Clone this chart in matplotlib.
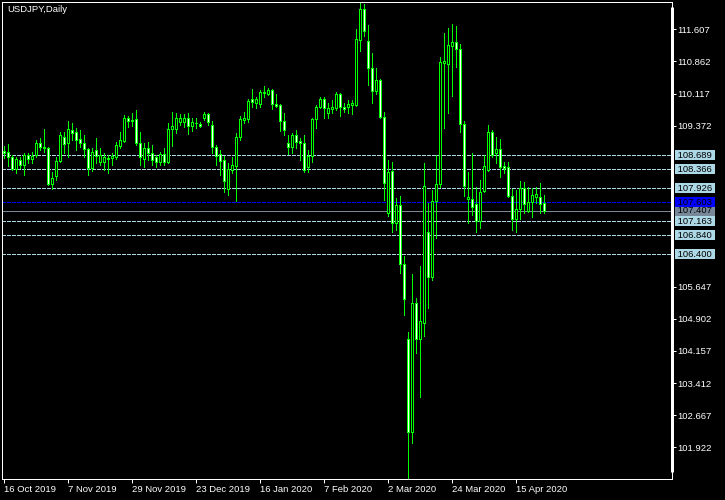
import matplotlib
matplotlib.use("Agg")
import matplotlib.pyplot as plt
import numpy as np
import pandas as pd

plt.rcParams['font.family'] = ['Liberation Sans', 'DejaVu Sans']

# daily USDJPY candles, 16 Oct 2019 .. 24 Apr 2020
opens = [108.787, 108.757, 108.641, 108.370, 108.579, 108.463, 108.695, 108.595, 108.695, 108.980,
         108.887, 108.850, 108.016, 108.215, 108.556, 109.119, 108.966, 109.274, 109.235, 109.058,
         108.980, 108.827, 108.400, 108.811, 108.526, 108.540, 108.595, 108.618, 108.641, 108.910,
         109.026, 109.545, 109.489, 109.522, 108.966, 108.602, 108.850, 108.748, 108.655, 108.540,
         108.718, 108.540, 109.290, 109.290, 109.466, 109.466, 109.545, 109.367, 109.429, 109.413,
         109.545, 109.638, 109.390, 108.887, 108.718, 108.579, 107.900, 108.347, 108.440, 109.105,
         109.506, 109.522, 109.985, 109.893, 109.869, 110.124, 110.101, 110.201, 109.869, 109.853,
         109.489, 108.966, 108.887, 109.158, 109.019, 108.966, 108.424, 108.671, 109.522, 109.814,
         109.985, 109.675, 109.760, 109.777, 110.108, 109.814, 109.800, 109.860, 109.853, 111.359,
         112.071, 111.336, 110.703, 110.184, 110.432, 109.582, 107.344, 108.331, 107.126, 107.536,
         106.162, 104.424, 102.270, 105.259, 104.424, 104.809, 106.904, 105.875, 107.636, 108.016,
         110.833, 110.796, 111.227, 111.306, 111.144, 109.406, 107.675, 107.675, 107.552, 107.165,
         107.867, 108.347, 109.221, 108.748, 108.827, 108.440, 108.424, 107.752, 107.205, 107.437,
         107.923, 107.404, 107.613, 107.729, 107.729, 107.576]
highs = [108.903, 108.950, 108.695, 108.655, 108.655, 108.734, 108.734, 108.771, 109.042, 109.082,
         109.290, 108.887, 108.308, 108.655, 109.235, 109.235, 109.489, 109.443, 109.313, 109.274,
         109.158, 108.850, 108.850, 109.082, 108.850, 108.734, 108.695, 108.734, 109.003, 109.235,
         109.621, 109.598, 109.675, 109.737, 109.235, 108.980, 109.003, 108.926, 108.695, 108.771,
         108.850, 109.443, 109.698, 109.675, 109.645, 109.645, 109.675, 109.545, 109.545, 109.466,
         109.698, 109.668, 109.489, 108.926, 108.811, 108.671, 108.502, 108.655, 109.211, 109.598,
         109.698, 109.985, 110.217, 110.045, 110.201, 110.293, 110.247, 110.217, 110.108, 109.876,
         109.675, 109.158, 109.197, 109.274, 109.082, 109.158, 108.811, 109.545, 109.853, 110.032,
         110.045, 109.906, 109.969, 110.161, 110.124, 109.893, 109.969, 109.969, 111.607, 112.210,
         112.193, 111.707, 111.051, 110.703, 110.456, 109.684, 108.579, 108.539, 107.691, 107.745,
         106.355, 104.600, 105.937, 105.388, 106.123, 108.502, 107.576, 107.884, 108.695, 110.958,
         111.528, 111.630, 111.730, 111.684, 111.267, 109.482, 108.294, 108.734, 107.946, 108.115,
         108.695, 109.390, 109.274, 109.119, 109.058, 108.540, 108.540, 107.900, 107.884, 108.099,
         108.076, 107.946, 107.923, 107.946, 108.039, 107.768]
lows = [108.625, 108.447, 108.347, 108.285, 108.387, 108.231, 108.502, 108.502, 108.655, 108.811,
        108.771, 108.000, 107.900, 108.115, 108.540, 108.734, 108.641, 109.042, 108.811, 108.887,
        108.655, 108.231, 108.331, 108.502, 108.463, 108.347, 108.271, 108.463, 108.595, 108.850,
        109.003, 109.350, 109.367, 108.926, 108.463, 108.424, 108.579, 108.463, 108.424, 108.463,
        108.463, 108.502, 108.903, 109.197, 109.390, 109.350, 109.181, 109.258, 109.313, 109.336,
        109.506, 109.390, 108.734, 108.463, 108.231, 107.844, 107.768, 108.271, 107.629, 109.042,
        109.443, 109.466, 109.814, 109.791, 109.814, 110.045, 110.085, 109.754, 109.814, 109.258,
        109.158, 108.718, 108.734, 108.850, 108.579, 108.308, 108.308, 108.540, 109.313, 109.777,
        109.545, 109.545, 109.661, 109.737, 109.598, 109.698, 109.661, 109.645, 109.830, 111.111,
        111.452, 110.317, 109.893, 110.108, 109.559, 107.652, 107.281, 106.918, 106.957, 105.968,
        104.987, 101.204, 102.015, 104.100, 103.094, 104.501, 105.143, 105.798, 106.765, 107.960,
        109.327, 109.661, 110.069, 110.741, 109.221, 107.752, 107.126, 107.304, 106.918, 106.996,
        107.844, 108.331, 108.655, 108.516, 108.192, 108.285, 107.729, 106.957, 106.918, 107.205,
        107.344, 107.381, 107.265, 107.576, 107.344, 107.344]
closes = [108.741, 108.641, 108.370, 108.595, 108.463, 108.695, 108.595, 108.671, 108.980, 108.887,
          108.850, 108.016, 108.169, 108.563, 109.158, 108.950, 109.290, 109.211, 109.042, 108.980,
          108.827, 108.387, 108.771, 108.671, 108.695, 108.641, 108.632, 108.671, 108.926, 109.042,
          109.545, 109.489, 109.513, 108.966, 108.641, 108.850, 108.748, 108.579, 108.540, 108.718,
          108.540, 109.290, 109.367, 109.545, 109.545, 109.545, 109.367, 109.466, 109.436, 109.367,
          109.645, 109.466, 108.873, 108.671, 108.563, 108.099, 108.363, 108.463, 109.105, 109.522,
          109.545, 109.953, 109.930, 109.992, 110.147, 110.161, 110.201, 109.869, 109.837, 109.489,
          109.274, 108.887, 109.158, 108.989, 108.966, 108.347, 108.671, 109.522, 109.814, 109.985,
          109.777, 109.777, 109.800, 110.108, 109.814, 109.760, 109.876, 109.893, 111.375, 112.071,
          111.575, 110.717, 110.184, 110.432, 109.582, 108.053, 108.294, 107.126, 107.536, 106.169,
          105.351, 102.270, 105.259, 104.424, 104.848, 107.983, 105.875, 107.636, 108.016, 110.843,
          110.873, 111.243, 111.306, 111.144, 109.406, 107.983, 107.715, 107.497, 107.165, 107.844,
          108.447, 109.221, 108.695, 108.827, 108.410, 108.400, 107.752, 107.205, 107.437, 107.923,
          107.559, 107.613, 107.768, 107.784, 107.559, 107.407]

holidays = ["2019-12-25", "2020-01-01"]
tick_dates = ["2019-10-16", "2019-11-07", "2019-11-29", "2019-12-23", "2020-01-16",
              "2020-02-07", "2020-03-02", "2020-03-24", "2020-04-15"]
price_ticks = [111.607, 110.862, 110.117, 109.372, 105.647, 104.902, 104.157, 103.412, 102.667, 101.922]
levels = [108.689, 108.366, 107.926, 107.163, 106.840, 106.400]
blue_level = 107.603
bid = 107.407

days = pd.bdate_range("2019-10-16", periods=150)
days = days[~days.isin(pd.to_datetime(holidays))][:len(opens)]

o = np.array(opens)
h = np.array(highs)
l = np.array(lows)
c = np.array(closes)
x = np.arange(len(o))

px = 0.72  # one pixel in points at 100 dpi
lime = '#00FF00'
lblue = '#ADD8E6'
fs = 6.8

fig = plt.figure(figsize=(7.25, 5), dpi=100, facecolor='black')
ax = fig.add_axes([2 / 725, 21 / 500, 670 / 725, 477 / 500], facecolor='black')

# level lines
for v in levels:
    ax.axhline(v, color=lblue, lw=px, ls=(0, (4, 2)), zorder=1, antialiased=False)
ax.axhline(bid, color='#778899', lw=px, zorder=1, antialiased=False)
ax.axhline(blue_level, color='#0000FF', lw=px, ls=(0, (4, 2)), zorder=1, antialiased=False)

# candles: white body = down day, black body = up day
ax.vlines(x, l, h, color=lime, lw=px, zorder=2, antialiased=False)
bear = c < o
body_low = np.minimum(o, c)
body_h = np.abs(c - o)
ax.bar(x, body_h, bottom=body_low, width=0.5,
       color=np.where(bear, 'white', 'black'), edgecolor=lime, linewidth=px, zorder=3,
       antialiased=False)

ax.set_xlim(-0.375, 167.125)
ax.set_ylim(101.188, 112.24)

for s in ax.spines.values():
    s.set_color('white')
    s.set_linewidth(px)
ax.plot([1, 1], [0.015, 0.99], transform=ax.transAxes, color='white', lw=3 * px,
        clip_on=False, zorder=5, solid_capstyle='butt')

ax.yaxis.tick_right()
ax.set_yticks(price_ticks)
ax.set_yticklabels([f"{v:.3f}" for v in price_ticks])
ax.tick_params(axis='y', colors='white', length=4 * px, width=px, pad=1, labelsize=fs)

pos = [days.get_loc(pd.Timestamp(d)) for d in tick_dates]
ax.set_xticks(pos)
ax.set_xticklabels([f"{pd.Timestamp(d).day} {pd.Timestamp(d).strftime('%b %Y')}" for d in tick_dates],
                   ha='left')
ax.tick_params(axis='x', colors='white', length=4 * px, width=px, pad=1.5, labelsize=fs)


# price labels at the right edge
def tag(v, fc, z):
    ax.annotate(f" {v:.3f} ", xy=(1, v), xycoords=('axes fraction', 'data'),
                xytext=(3, 0), textcoords='offset pixels', ha='left', va='center',
                fontsize=fs, color='black', annotation_clip=False, zorder=z,
                bbox=dict(boxstyle='square,pad=0.05', fc=fc, ec='none'))


for v in levels:
    tag(v, lblue, 6)
tag(bid, '#778899', 6)
tag(blue_level, '#0000FF', 7)

ax.annotate("USDJPY,Daily", xy=(0, 1), xycoords='axes fraction', xytext=(5, -3),
            textcoords='offset pixels', ha='left', va='top', color='white', fontsize=fs)

fig.savefig("out.png", dpi=100, facecolor='black')
